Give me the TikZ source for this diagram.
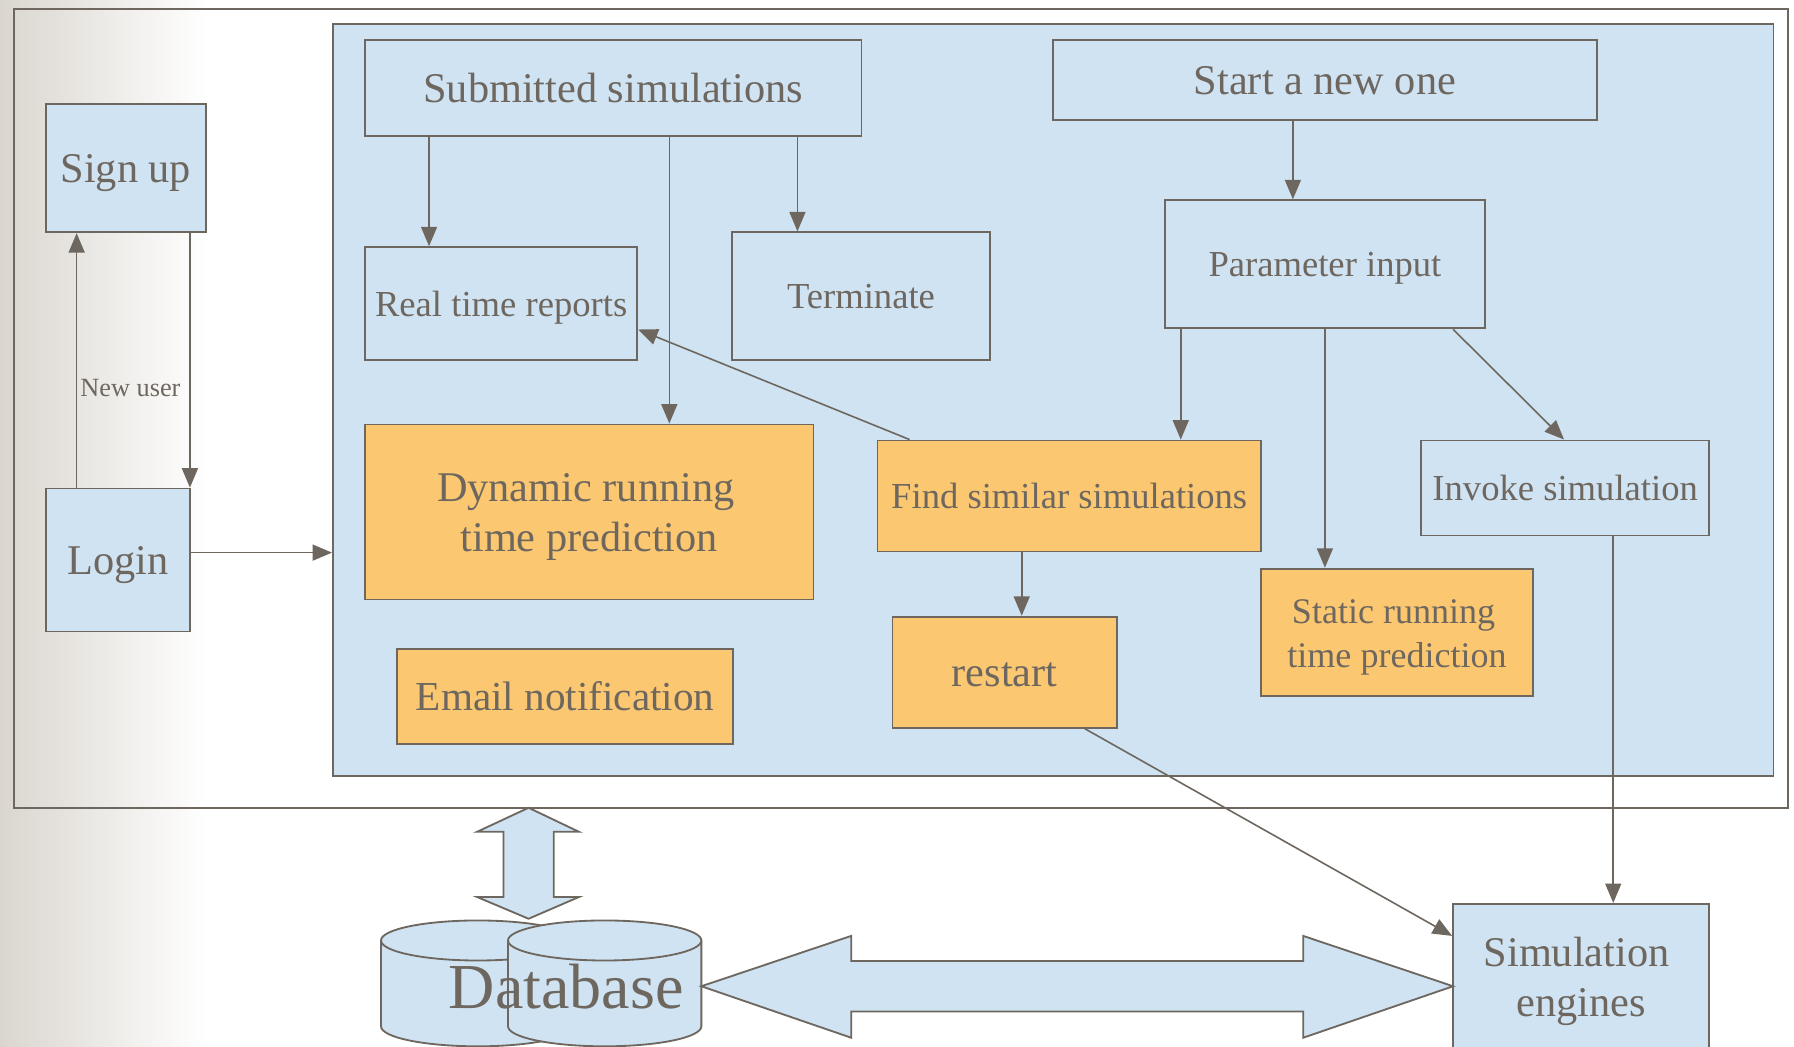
\documentclass[tikz,border=0pt]{standalone}
\usepackage{fontspec}
\setmainfont{Liberation Serif}
\usetikzlibrary{arrows.meta}
\definecolor{lc}{RGB}{110,103,95}
\definecolor{bf}{RGB}{208,227,242}
\definecolor{of}{RGB}{251,200,113}
\definecolor{gl}{RGB}{218,214,207}
\tikzset{
  bx/.style={draw=lc, line width=1.6pt, fill=bf, inner sep=0pt, text=lc, align=center,
    font=\fontsize{32}{39}\selectfont, text height=22pt, text depth=0pt},
  ob/.style={bx, fill=of},
  big/.style={font=\fontsize{37}{44}\selectfont, text height=25.5pt},
  txt/.style={text=lc, inner sep=0pt, anchor=base},
  arr/.style={draw=lc, line width=1.4pt, -{Triangle[length=17pt,width=14pt]}},
  blk/.style={draw=lc, line width=1.6pt, fill=bf, line join=miter}
}
\begin{document}
\begin{tikzpicture}[x=1pt,y=-1pt]
\useasboundingbox (0,0) rectangle (1568,915);
\fill[white] (0,0) rectangle (1568,915);
\shade[left color=gl, right color=white] (0,0) rectangle (181,915);
% frames
\node[draw=lc, line width=1.6pt, minimum width=1551pt, minimum height=698pt, inner sep=0pt] (frame) at (787.5,357) {};
\node[bx, minimum width=1259pt, minimum height=657pt] (main) at (920.5,349.5) {};
% left boxes
\node[bx, big, minimum width=140pt, minimum height=112pt] (signup) at (110,147) {Sign up};
\node[bx, big, minimum width=126pt, minimum height=125pt] (login) at (103,489.5) {Login};
% inner boxes
\node[bx, big, minimum width=434pt, minimum height=84pt] (sub) at (536,77) {Submitted simulations};
\node[bx, big, minimum width=476pt, minimum height=70pt] (start) at (1158,70) {Start a new one};
\node[bx, minimum width=238pt, minimum height=99pt] (rtr) at (438,265.5) {Real time reports};
\node[bx, minimum width=225pt, minimum height=112pt] (term) at (752.5,259) {Terminate};
\node[bx, minimum width=280pt, minimum height=112pt] (param) at (1158,231) {Parameter input};
\node[ob, minimum width=392pt, minimum height=153pt] (dyn) at (515,447.5) {};
\node[txt, font=\fontsize{37}{44}\selectfont] (dyn1) at ([xshift=-3pt]dyn.center |- 0,438.5) {Dynamic running};
\node[txt, font=\fontsize{37}{44}\selectfont] (dyn2) at (dyn.center |- 0,482.2) {time prediction};
\node[ob, minimum width=335pt, minimum height=97pt] (find) at (934.5,433.5) {Find similar simulations};
\node[bx, minimum width=252pt, minimum height=83pt] (invoke) at (1368,426.5) {Invoke simulation};
\node[ob, font=\fontsize{36}{43}\selectfont, text height=24.8pt, minimum width=294pt, minimum height=83pt] (email) at (494,608.5) {Email notification};
\node[ob, big, minimum width=196pt, minimum height=97pt] (restart) at (878,587.5) {restart};
\node[ob, minimum width=238pt, minimum height=111pt] (static) at (1221,552.5) {};
\node[txt, font=\fontsize{31.5}{39}\selectfont] (st1) at ([xshift=-3pt]static.center |- 0,544.7) {Static running};
\node[txt, font=\fontsize{31.5}{39}\selectfont] (st2) at (static.center |- 0,583) {time prediction};
\node[bx, minimum width=224pt, minimum height=129pt] (sim) at (1382,854.5) {};
\node[txt, font=\fontsize{37}{44}\selectfont] (sim1) at ([xshift=-4pt]sim.center |- 0,844.3) {Simulation};
\node[txt, font=\fontsize{37}{44}\selectfont] (sim2) at (sim.center |- 0,888.6) {engines};
% database cylinders
\fill[bf] (333,822) rectangle (502,897);
\fill[bf] (417.5,897) ellipse[x radius=84.5, y radius=17.5];
\draw[lc, line width=1.6pt] (333,822) -- (333,897) arc[start angle=180, end angle=0, x radius=84.5, y radius=17.5] -- (502,822);
\draw[lc, line width=1.6pt, fill=bf] (417.5,822) ellipse[x radius=84.5, y radius=17.5];
\fill[bf] (444,822) rectangle (613,897);
\fill[bf] (528.5,897) ellipse[x radius=84.5, y radius=17.5];
\draw[lc, line width=1.6pt] (444,822) -- (444,897) arc[start angle=180, end angle=0, x radius=84.5, y radius=17.5] -- (613,822);
\draw[lc, line width=1.6pt, fill=bf] (528.5,822) ellipse[x radius=84.5, y radius=17.5];
\node[text=lc, font=\fontsize{56}{60}\selectfont, inner sep=0pt] (db) at (495,862) {Database};
% block arrows
\draw[blk] (462,706) -- (506,727) -- (484,727) -- (484,784) -- (506,784) -- (462,803) -- (417,784) -- (440,784) -- (440,727) -- (417,727) -- cycle;
\draw[blk] (613,862) -- (744,818) -- (744,840) -- (1139,840) -- (1139,818) -- (1270,862) -- (1139,907) -- (1139,884) -- (744,884) -- (744,907) -- cycle;
% connectors
\draw[arr] (67,0 |- login.north) -- (67,0 |- signup.south);
\draw[arr] (166,0 |- signup.south) -- (166,0 |- login.north);
\node[text=lc, font=\fontsize{23}{27}\selectfont, inner sep=0pt] (nu) at (114,339) {New user};
\draw[arr] (login.east |- 0,483) -- (main.west |- 0,483);
\draw[arr] (375,0 |- sub.south) -- (375,0 |- rtr.north);
\draw[arr] (585,0 |- sub.south) -- (585,0 |- dyn.north);
\draw[arr] (697,0 |- sub.south) -- (697,0 |- term.north);
\draw[arr] (1130,0 |- start.south) -- (1130,0 |- param.north);
\draw[arr] (1032,0 |- param.south) -- (1032,0 |- find.north);
\draw[arr] (1158,0 |- param.south) -- (1158,0 |- static.north);
\draw[arr] (1270,0 |- param.south) -- (1367,0 |- invoke.north);
\draw[arr] (795,0 |- find.north) -- (rtr.east |- 0,288);
\draw[arr] (893,0 |- find.south) -- (893,0 |- restart.north);
\draw[arr] (948,0 |- restart.south) -- (sim.west |- 0,818);
\draw[arr] (1410,0 |- invoke.south) -- (1410,0 |- sim.north);
\end{tikzpicture}
\end{document}
